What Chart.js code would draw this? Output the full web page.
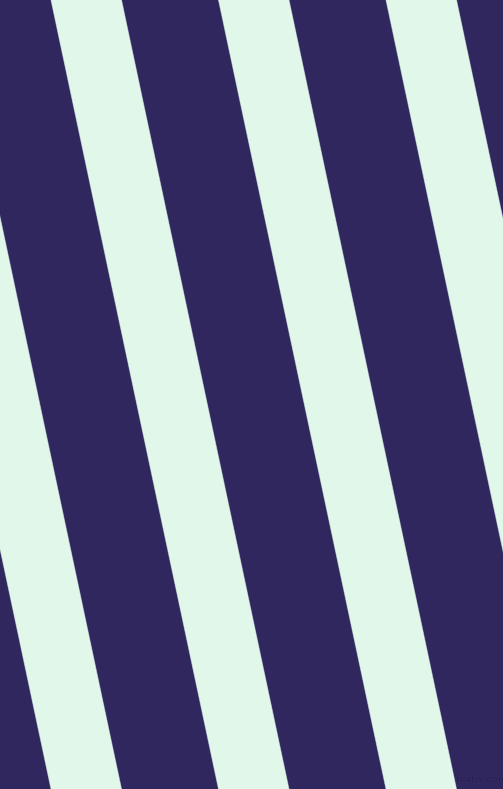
<!DOCTYPE html>
<html>
<head>
<meta charset="utf-8">
<script src="https://cdn.jsdelivr.net/npm/chart.js@4/dist/chart.umd.min.js"></script>
<style>
    html, body { margin: 0; padding: 0; background: #30275f; overflow: hidden; }
    #wrap { position: relative; width: 503px; height: 789px; }
    #stripes { display: block; }
    #mark {
        position: absolute; left: 456px; top: 774px;
        font-family: "DejaVu Sans", sans-serif; font-size: 9px; font-weight: bold;
        color: #261f50; text-shadow: 0 0 1px #4a4380;
    }
</style>
</head>
<body>
<div id="wrap">
    <canvas id="stripes" width="503" height="789"></canvas>
    <div id="mark">pixlis.com</div>
</div>
<script>
// light stripe edges, x in pixels at the top (y = 0) and bottom (y = 789)
const stripeLeftTop = [-116.5, 51, 218.5, 386];
const stripeRightTop = [-46, 121.5, 289, 456.5];
const stripeLeftBottom = [51, 218.5, 386, 553.5];
const stripeRightBottom = [121.5, 289, 456.5, 624];
const topY = 0;
const bottomY = 789;

const lightColor = '#e0f7e9';

document.addEventListener('DOMContentLoaded', function() {
    const datasets = [];
    for (let i = 0; i < stripeLeftTop.length; i++) {
        datasets.push({
            data: [
                { x: stripeLeftTop[i], y: topY },
                { x: stripeRightTop[i], y: topY },
                { x: stripeRightBottom[i], y: bottomY },
                { x: stripeLeftBottom[i], y: bottomY },
                { x: stripeLeftTop[i], y: topY }
            ],
            showLine: true,
            fill: 'shape',
            backgroundColor: lightColor,
            borderColor: lightColor,
            borderWidth: 0.5,
            pointRadius: 0,
            tension: 0
        });
    }

    const ctx = document.getElementById('stripes').getContext('2d');
    new Chart(ctx, {
        type: 'scatter',
        data: { datasets: datasets },
        options: {
            responsive: false,
            animation: false,
            layout: { padding: 0 },
            plugins: { legend: { display: false }, tooltip: { enabled: false } },
            scales: {
                x: { type: 'linear', min: 0, max: 503, display: false },
                y: { type: 'linear', min: 0, max: 789, reverse: true, display: false }
            }
        }
    });
});
</script>
</body>
</html>
